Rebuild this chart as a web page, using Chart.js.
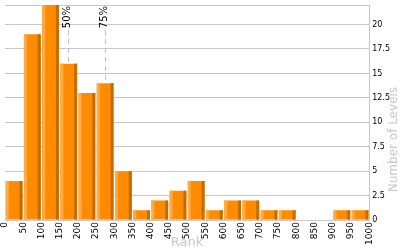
<!DOCTYPE html>
<html>
<head>
<meta charset="utf-8">
<script src="https://cdn.jsdelivr.net/npm/chart.js@4.4.1/dist/chart.umd.min.js"></script>
<style>
html,body{margin:0;padding:0;background:#fff;}
canvas{display:block;}
</style>
</head>
<body>
<canvas id="c" width="400" height="250"></canvas>
<script>
// Data
const binStarts = [0,50,100,150,200,250,300,350,400,450,500,550,600,650,700,750,800,850,900,950];
const binWidth = 50;
const levelCounts = [4,19,22,16,13,14,5,1,2,3,4,1,2,2,1,1,0,0,1,1];
const percentileLabels = ['50%','75%'];
const percentileValues = [172, 274];
const xTitle = 'Rank';
const yTitle = 'Number of Levels';

const FONT = 'DejaVu Sans, Verdana, sans-serif';
const GRID = '#c8c8c8';

const points = binStarts.map((s,i)=>({x: s + binWidth/2, y: levelCounts[i]}));

const barDecor = {
  id:'barDecor',
  afterDatasetsDraw(chart){
    const ctx = chart.ctx;
    const meta = chart.getDatasetMeta(0);
    ctx.save();
    meta.data.forEach(el=>{
      const p = el.getProps(['x','y','base','width'], true);
      const h = p.base - p.y;
      if (h <= 0) return;
      const l = p.x - p.width/2, r = p.x + p.width/2;
      ctx.fillStyle = '#ffaa44';
      ctx.fillRect(l, p.y, 3, h);
      ctx.fillStyle = '#c46c00';
      ctx.fillRect(r-3, p.y, 3, h);
    });
    ctx.restore();
  }
};

const percentiles = {
  id:'percentiles',
  beforeDatasetsDraw(chart){
    const ctx = chart.ctx, xs = chart.scales.x, area = chart.chartArea;
    ctx.save();
    percentileValues.forEach((v,i)=>{
      const px = Math.round(xs.getPixelForValue(v)) + 0.5;
      ctx.strokeStyle = '#c0c0c0';
      ctx.lineWidth = 1;
      ctx.setLineDash([5,4]);
      ctx.beginPath();
      ctx.moveTo(px, area.top + 25);
      ctx.lineTo(px, area.bottom);
      ctx.stroke();
    });
    ctx.restore();
  },
  afterDraw(chart){
    const ctx = chart.ctx, xs = chart.scales.x, area = chart.chartArea;
    ctx.save();
    ctx.setLineDash([]);
    ctx.fillStyle = '#000';
    ctx.font = '10px ' + FONT;
    percentileValues.forEach((v,i)=>{
      const px = xs.getPixelForValue(v);
      ctx.save();
      ctx.translate(px, area.top + 1);
      ctx.rotate(-Math.PI/2);
      ctx.textAlign = 'right';
      ctx.textBaseline = 'middle';
      ctx.fillText(percentileLabels[i], 0, 0);
      ctx.restore();
    });
    // x axis title
    ctx.fillStyle = GRID;
    ctx.font = '13px ' + FONT;
    ctx.textAlign = 'center';
    ctx.textBaseline = 'middle';
    ctx.fillText(xTitle, (area.left + area.right)/2, 243);
    // y axis title, reading bottom to top
    ctx.font = '12px ' + FONT;
    ctx.translate(394, (area.top + area.bottom)/2 + 27);
    ctx.rotate(-Math.PI/2);
    ctx.fillText(yTitle, 0, 0);
    ctx.restore();
  }
};

new Chart(document.getElementById('c'), {
  type:'bar',
  data:{
    datasets:[{
      data: points,
      backgroundColor:'#ff8c00',
      borderWidth:0,
      barPercentage:0.92,
      categoryPercentage:1.0
    }]
  },
  options:{
    responsive:false,
    devicePixelRatio:1,
    animation:false,
    layout:{padding:{left:5,right:7,top:5,bottom:3}},
    plugins:{legend:{display:false},tooltip:{enabled:false}},
    scales:{
      x:{
        type:'linear',
        min:0,max:1000,
        offset:false,
        ticks:{
          stepSize:50,
          autoSkip:false,
          maxRotation:90,
          minRotation:90,
          color:'#000',
          padding:2,
          font:{family:FONT,size:9},
          callback:(v)=> String(v)
        },
        grid:{
          drawTicks:false,
          color:(c)=> (c.tick && c.tick.value===0) ? GRID : 'rgba(0,0,0,0)'
        },
        border:{display:false}
      },
      y:{
        position:'right',
        min:0,max:22,
        ticks:{
          stepSize:2.5,
          color:'#000',
          padding:3,
          font:{family:FONT,size:8},
          callback:(v)=> v===22 ? '' : String(v)
        },
        afterBuildTicks:(s)=>{
          const t=[]; for(let v=0; v<=20; v+=2.5) t.push({value:v}); t.push({value:22}); s.ticks=t;
        },
        afterFit:(s)=>{ s.paddingTop = 0; },
        grid:{drawTicks:false,color:GRID},
        border:{display:true,color:GRID}
      }
    }
  },
  plugins:[barDecor, percentiles]
});
</script>
</body>
</html>
